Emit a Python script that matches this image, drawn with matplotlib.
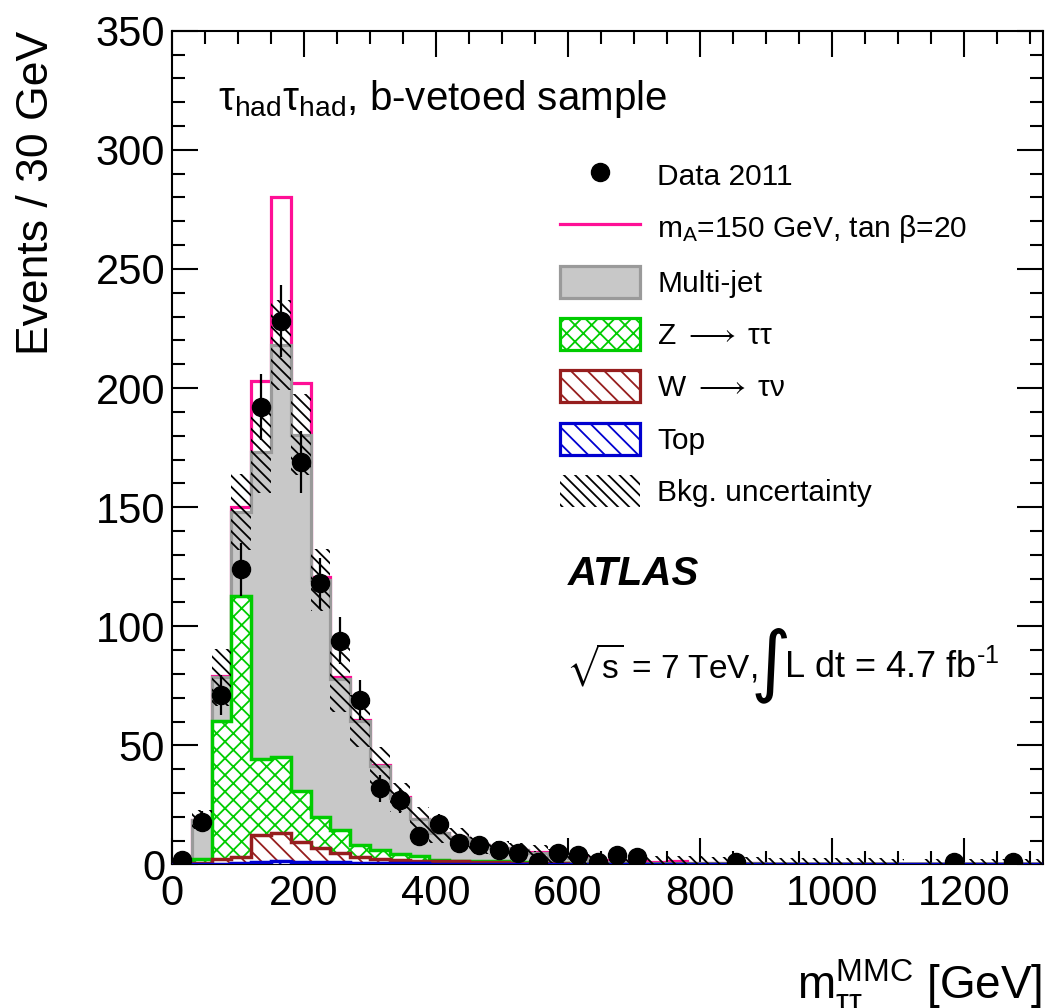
import numpy as np
import matplotlib
matplotlib.use('Agg')
import matplotlib.pyplot as plt
from matplotlib.lines import Line2D
from matplotlib.patches import Patch

plt.rcParams.update({'font.family': 'Liberation Sans',
                     'mathtext.fontset': 'custom',
                     'mathtext.rm': 'Liberation Sans',
                     'mathtext.it': 'Liberation Sans:italic',
                     'mathtext.bf': 'Liberation Sans:bold',
                     'mathtext.fallback': 'stixsans',
                     'hatch.linewidth': 1.3})

# 30 GeV bins from 0 to 1320 GeV
bin_edges = np.arange(0, 1321, 30)

data_2011 = [2, 18, 71, 124, 192, 228, 169, 118, 94, 69, 32, 27, 12, 17, 9, 8, 6, 5, 1, 5,
             4, 1, 4, 3, 0, 0, 0, 0, 1, 0, 0, 0, 0, 0, 0, 0, 0, 0, 0, 1,
             0, 0, 1, 0]

top = [0.1, 0.2, 0.3, 0.5, 1.2, 1.3, 1.2, 1.0, 1.0, 0.8, 0.7, 0.6, 0.5, 0.4, 0.4, 0.3, 0.3, 0.2, 0.2, 0.2,
       0.1, 0.1, 0.1, 0.1, 0.1, 0.1, 0.1, 0.1, 0.1, 0.1, 0, 0, 0, 0, 0, 0, 0, 0, 0, 0,
       0, 0, 0, 0]
w_taunu = [0.1, 0.3, 1.9, 2.8, 11.2, 11.8, 8.4, 6.1, 4.0, 2.2, 1.5, 1.4, 1.0, 1.0, 0.9, 0.9, 0.7, 0.6, 0.4, 0.3,
           0.2, 0.2, 0.2, 0.1, 0.1, 0.1, 0.1, 0.1, 0.1, 0.1, 0, 0, 0, 0, 0, 0, 0, 0, 0, 0,
           0, 0, 0, 0]
z_tautau = [0.3, 2.0, 58.1, 109.2, 31.8, 32.2, 21.3, 13.0, 9.5, 5.0, 3.9, 2.3, 2.1, 0.5, 0.3, 0.3, 0.3, 0.2, 0.2, 0.2,
            0.1, 0.1, 0.1, 0.1, 0.1, 0.1, 0.1, 0.1, 0.1, 0.1, 0, 0, 0, 0, 0, 0, 0, 0, 0, 0,
            0, 0, 0, 0]
multijet = [0.5, 16.2, 18.2, 35.5, 128.8, 172.7, 149.6, 99.4, 63.5, 52.3, 35.3, 23.7, 15.4, 11.1, 9.9, 6.5, 5.7, 5.0, 4.2, 2.8,
            2.4, 0.8, 0.6, 0.4, 0.3, 0.4, 0.3, 0.3, 0.3, 0.2, 0.3, 0.3, 0.3, 0.2, 0.2, 0.2, 0.2, 0.2, 0.1, 0.1,
            0.1, 0.1, 0.1, 0.1]
signal = [0, 0, 0.5, 2.0, 30, 62, 21.5, 1.0, 0.5, 0.3, 0.2, 0.2, 0.2, 0.1, 0.1, 0.1, 0.1, 0.1, 0.1, 0.1,
          0.2, 0.6, 0.6, 0.6, 0.6, 0.6, 0.2, 0, 0, 0, 0, 0, 0, 0, 0, 0, 0, 0, 0, 0,
          0, 0, 0, 0]
bkg_unc = [1.0, 4, 12, 16, 17, 19, 17, 13, 14, 11, 8, 6, 5, 4, 4, 3.5, 3, 3, 3, 3,
           3, 3, 3, 3, 3, 3, 3, 2.5, 2.5, 2.5, 2.5, 2.5, 2.5, 2.5, 2.5, 2.5, 2, 0, 2, 2,
           2, 2, 2, 2]

c_top = np.array(top)
c_w = c_top + np.array(w_taunu)
c_z = c_w + np.array(z_tautau)
c_tot = c_z + np.array(multijet)
c_sig = c_tot + np.array(signal)
unc = np.array(bkg_unc)

pink = '#ff0f96'
green = '#00cc00'
darkred = '#961e1e'
blue = '#0000d0'
grey_fill = '#c8c8c8'
grey_edge = '#9a9a9a'

fig = plt.figure(figsize=(10.45, 10.08), dpi=100)
ax = fig.add_axes([0.1646, 0.1424, 0.8335, 0.8271])

# signal stacked on top of the background, drawn first
ax.stairs(c_sig, bin_edges, color=pink, lw=2.3, zorder=1)

ax.stairs(c_tot, bin_edges, baseline=0, fill=True, facecolor=grey_fill, zorder=2)
ax.stairs(c_tot, bin_edges, baseline=None, color=grey_edge, lw=2.3, zorder=2.1)

ax.stairs(c_z, bin_edges, baseline=0, fill=True, facecolor='white', zorder=2.2)
ax.stairs(c_z, bin_edges, baseline=0, fill=True, facecolor='none', edgecolor=green,
          hatch='xx', lw=0, zorder=2.3)
ax.stairs(c_z, bin_edges, baseline=None, color=green, lw=2.5, zorder=2.4)

ax.stairs(c_w, bin_edges, baseline=0, fill=True, facecolor='white', zorder=2.5)
ax.stairs(c_w, bin_edges, baseline=0, fill=True, facecolor='none', edgecolor=darkred,
          hatch='\\\\', lw=0, zorder=2.6)
ax.stairs(c_w, bin_edges, baseline=None, color=darkred, lw=2.5, zorder=2.7)

ax.stairs(c_top, bin_edges, baseline=0, fill=True, facecolor='white', zorder=2.8)
ax.stairs(c_top, bin_edges, baseline=0, fill=True, facecolor='none', edgecolor=blue,
          hatch='\\\\', lw=0, zorder=2.9)
ax.stairs(c_top, bin_edges, baseline=None, color=blue, lw=2.5, zorder=3)

# background uncertainty band
ax.stairs(c_tot + unc, bin_edges, baseline=np.clip(c_tot - unc, 0, None), fill=True,
          facecolor='none', edgecolor='black', hatch='\\' * 3, lw=0, zorder=4)

# data
centers = 0.5 * (bin_edges[:-1] + bin_edges[1:])
d = np.array(data_2011, dtype=float)
m = d > 0
ax.errorbar(centers[m], d[m], yerr=np.sqrt(d[m]), fmt='o', color='black', ms=13,
            elinewidth=1.6, capsize=0, zorder=6)

ax.set_xlim(0, 1320)
ax.set_ylim(0, 350)
ax.set_xticks(np.arange(0, 1201, 200))
ax.set_xticks(np.arange(0, 1321, 50), minor=True)
ax.set_yticks(np.arange(0, 351, 50))
ax.set_yticks(np.arange(0, 351, 10), minor=True)
ax.tick_params(which='both', direction='in', top=True, right=True, width=1.5, labelsize=30)
ax.tick_params(which='major', length=19)
ax.tick_params(which='minor', length=9.5)
ax.tick_params(axis='x', pad=7)
ax.tick_params(axis='y', pad=5)
for s in ax.spines.values():
    s.set_linewidth(1.5)

def axx(px):
    return (px - 172) / 871.0

def axy(py):
    return (864.5 - py) / 833.8

ax.text(axx(218), axy(110), r'$\mathrm{\tau_{had}\tau_{had}}$, b-vetoed sample', transform=ax.transAxes,
        fontsize=29, va='baseline', ha='left')
ax.text(axx(568), axy(585), 'ATLAS', transform=ax.transAxes, fontsize=29,
        fontweight='bold', fontstyle='italic', va='baseline', ha='left')
ax.text(axx(566), axy(678), r'$\sqrt{\mathrm{s}}$ = 7 TeV,', transform=ax.transAxes, fontsize=24,
        va='baseline', ha='left')
ax.text(axx(751), axy(686), '\u222b', transform=ax.transAxes, fontsize=56, family='DejaVu Sans',
        va='baseline', ha='left')
ax.text(axx(784), axy(678), 'L dt = 4.7 fb$^{\\mathrm{\u2010 1}}$', transform=ax.transAxes, fontsize=26,
        va='baseline', ha='left')

handles = [Line2D([], [], ls='none', marker='o', ms=13, color='black'),
           Line2D([], [], color=pink, lw=2.3),
           Patch(facecolor=grey_fill, edgecolor=grey_edge, lw=2.3),
           Patch(facecolor='white', edgecolor=green, hatch='xx', lw=2.3),
           Patch(facecolor='white', edgecolor=darkred, hatch='\\\\', lw=2.3),
           Patch(facecolor='white', edgecolor=blue, hatch='\\\\', lw=2.3),
           Patch(facecolor='none', edgecolor='black', hatch='\\' * 3, lw=0)]
labels = ['Data 2011',
          r'm$_{\mathrm{A}}$=150 GeV, tan $\mathrm{\beta}$=20',
          'Multi-jet',
          r'Z $\longrightarrow\;\mathrm{\tau\tau}$',
          r'W $\longrightarrow\;\mathrm{\tau\nu}$',
          'Top',
          'Bkg. uncertainty']
ax.legend(handles, labels, loc='upper left', bbox_to_anchor=(axx(560), axy(159)),
          frameon=False, fontsize=21.5, borderpad=0, borderaxespad=0,
          handlelength=2.68, handleheight=1.27, handletextpad=0.57, labelspacing=0.68)

fig.text(37 / 1045, 1 - 31 / 1008, 'Events / 30 GeV', rotation=90, ha='center', va='top', fontsize=32)
fig.text(1042 / 1045, 8 / 1008, r'$\mathrm{m_{\tau\tau}^{MMC}}$ [GeV]', ha='right', va='baseline', fontsize=33)

fig.savefig('out.png', dpi=100)
